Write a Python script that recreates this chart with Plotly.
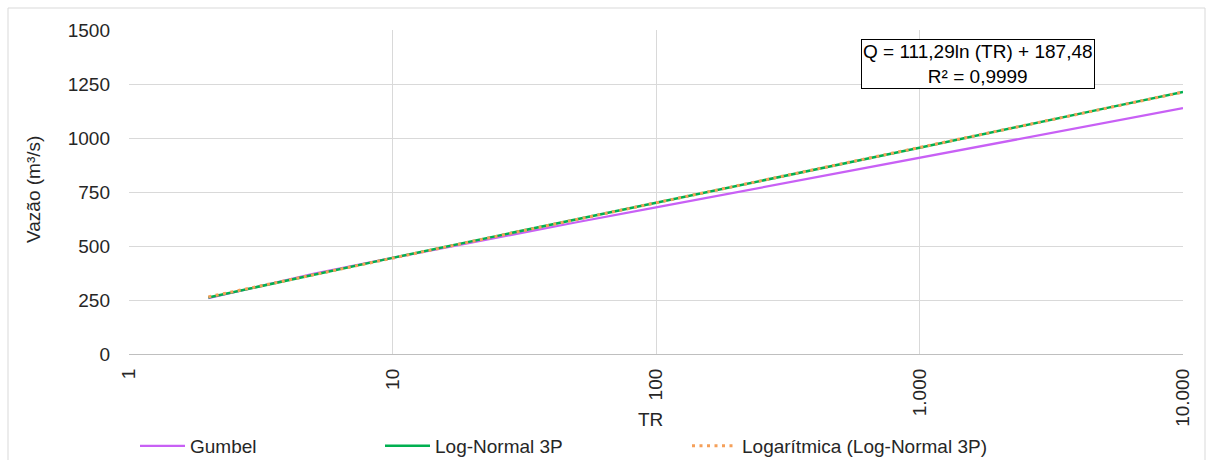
import plotly.graph_objects as go

# ---- data ----
tr = [2, 5, 10, 25, 50, 100, 200, 500, 1000, 5000, 10000]
gumbel = [258, 371, 445, 540, 610, 679, 748, 840, 909, 1069, 1138]
lognormal3p = [262, 367, 445, 547, 623, 700, 776, 877, 955, 1136, 1213]
trend_log = [264.6, 366.6, 443.7, 545.7, 622.8, 700.0, 777.1, 879.1, 956.2, 1135.4, 1212.5]

x_tickvals = [1, 10, 100, 1000, 10000]
x_ticktext = ["1", "10", "100", "1.000", "10.000"]
y_tickvals = [0, 250, 500, 750, 1000, 1250, 1500]

equation = "Q = 111,29ln (TR) + 187,48<br>R² = 0,9999"

FONT = "Liberation Sans, Arial, sans-serif"
TXT = "#262626"
FS = 19
W, H = 1213, 460
L, R, T, B = 129, 30, 30, 106
PW, PH = W - L - R, H - T - B

def px(xp):
    return (xp - L) / PW

def py(yp):
    return (H - B - yp) / PH

fig = go.Figure()
fig.add_trace(go.Scatter(x=tr, y=gumbel, mode="lines", name="Gumbel",
                         line=dict(color="#C860F5", width=2.25), legend="legend"))
fig.add_trace(go.Scatter(x=tr, y=lognormal3p, mode="lines", name="Log-Normal 3P",
                         line=dict(color="#00B050", width=2.5), legend="legend2"))
fig.add_trace(go.Scatter(x=tr, y=trend_log, mode="lines", name="Logarítmica (Log-Normal 3P)",
                         line=dict(color="#F5A05A", width=3, dash="3px,4.5px"), legend="legend3"))

leg_common = dict(orientation="h", yanchor="middle", y=py(446), xanchor="left",
                  font=dict(family=FONT, size=FS, color=TXT), bgcolor="rgba(0,0,0,0)",
                  itemwidth=45)

fig.update_layout(
    width=W, height=H,
    margin=dict(l=L, r=R, t=T, b=B, autoexpand=False),
    paper_bgcolor="white", plot_bgcolor="white",
    font=dict(family=FONT, size=FS, color=TXT),
    showlegend=True,
    legend=dict(**leg_common, x=px(135)),
    legend2=dict(**leg_common, x=px(380)),
    legend3=dict(**leg_common, x=px(687)),
    xaxis=dict(type="log", range=[0, 4], tickvals=x_tickvals, ticktext=x_ticktext,
               tickangle=-90, showgrid=True, gridcolor="#D9D9D9", gridwidth=1,
               showline=True, linecolor="#BFBFBF", linewidth=1.3, zeroline=False,
               ticks="", ticklabelstandoff=6, tickfont=dict(size=FS, color=TXT)),
    yaxis=dict(range=[0, 1500], tickvals=y_tickvals, showgrid=True, gridcolor="#D9D9D9",
               gridwidth=1, zeroline=False, showline=False, ticks="",
               ticklabelstandoff=18, tickfont=dict(size=FS, color=TXT)),
    annotations=[
        dict(text=equation, xref="paper", yref="paper", x=px(978), y=py(64),
             xanchor="center", yanchor="middle", showarrow=False, align="center",
             font=dict(family=FONT, size=FS, color="#000000"),
             bordercolor="#000000", borderwidth=1, borderpad=1, bgcolor="white"),
        dict(text="TR", xref="paper", yref="paper", x=px(650), y=py(419),
             xanchor="center", yanchor="middle", showarrow=False,
             font=dict(family=FONT, size=FS, color=TXT)),
        dict(text="Vazão (m³/s)", xref="paper", yref="paper", x=px(33), y=py(190),
             xanchor="center", yanchor="middle", showarrow=False, textangle=-90,
             font=dict(family=FONT, size=FS, color=TXT)),
    ],
    shapes=[
        dict(type="rect", xref="paper", yref="paper", x0=px(8), x1=px(1205),
             y0=py(475), y1=py(8), line=dict(color="#D9D9D9", width=1), layer="below"),
    ],
)

fig.write_html("out.html", config={"displayModeBar": False},
               post_script="document.body.style.margin='0';")
